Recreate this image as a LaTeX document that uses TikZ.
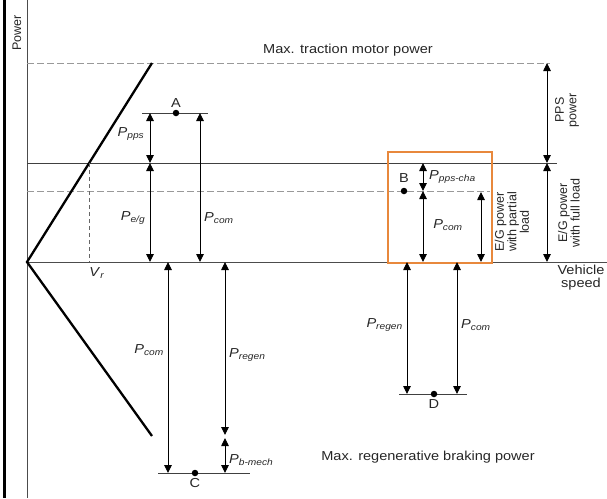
\documentclass[tikz,border=0pt]{standalone}
\usepackage{fontspec}
\setmainfont{Liberation Sans}
\newfontfamily\widesf[FakeStretch=1.12]{Liberation Sans}
\usetikzlibrary{arrows.meta,positioning,calc}
\definecolor{boxorange}{RGB}{232,136,60}
\newcommand{\Plab}[1]{\textit{P}\textsubscript{\textit{#1}}}
\tikzset{
  axisline/.style={draw=black!70, line width=0.9pt},
  level/.style={draw=black!75, line width=0.9pt},
  maxline/.style={draw=black!40, line width=0.9pt, dash pattern=on 7pt off 3pt},
  vline/.style={draw=black!60, line width=0.9pt, dash pattern=on 4pt off 3pt},
  limit/.style={draw=black, line width=2.3pt},
  dim/.style={{Triangle[width=7.5pt,length=8pt]}-{Triangle[width=7.5pt,length=8pt]}, draw=black, line width=0.9pt},
  opdot/.style={circle, fill=black, inner sep=0pt, minimum size=6.5pt},
  oplabel/.style={font=\widesf\fontsize{13}{13}\selectfont, text=black!85, inner sep=1pt},
  side/.style={font=\fontsize{12.5}{12.5}\selectfont, text=black!85, align=center, rotate=90, inner sep=0pt},
  zone/.style={draw=boxorange, line width=2.5pt}
}

\begin{document}
\begin{tikzpicture}[x=1pt,y=-1pt]
  \useasboundingbox (0,0) rectangle (607,498);
  \draw[line width=3pt] (4.5,0) -- (4.5,498);

  % axes
  \coordinate (O) at (27,262);
  \coordinate (ytop) at (27,0);
  \coordinate (ybot) at (27,498);
  \coordinate (xend) at (607,262);
  \draw[axisline] (ytop) -- (ybot);
  \draw[axisline] (O) -- (xend);
  \node[side] (power) at (17,33) {Power};
  \node[oplabel, align=center] (speed) at (581,278) {Vehicle\\speed};

  % power levels
  \coordinate (maxL) at (27,63);  \coordinate (maxR) at (550,63);
  \coordinate (fullL) at (27,163); \coordinate (fullR) at (557,163);
  \coordinate (partL) at (27,191); \coordinate (partR) at (490,191);
  \draw[maxline] (maxL) -- (maxR);
  \draw[level] (fullL) -- (fullR);
  \draw[maxline] (partL) -- (partR);
  \node[oplabel] (maxtm) at (348,50) {Max. traction motor power};
  \node[oplabel] (maxrb) at (428,457) {Max. regenerative braking power};

  % motor limit
  \coordinate (kneeT) at (152,63);
  \coordinate (kneeB) at (152,436);
  \draw[limit] (kneeT) -- (O) -- (kneeB);
  \coordinate (vrT) at (89,163);
  \coordinate (vrB) at (89,262);
  \draw[vline] (vrT) -- (vrB);
  \node[oplabel] (vr) at (97,273) {\textit{V}\textsubscript{\textit{r}}};

  % point A
  \coordinate (aL) at (142,113); \coordinate (aR) at (208,113);
  \draw[level] (aL) -- (aR);
  \node[opdot] (A) at (176,113) {};
  \node[oplabel, above=1pt of A] (lA) {A};
  \coordinate (a1) at (150,113); \coordinate (a2) at (150,163); \coordinate (a3) at (150,262);
  \coordinate (a4) at (200,113); \coordinate (a5) at (200,262);
  \draw[dim] (a1) -- (a2);
  \draw[dim] (a2) -- (a3);
  \draw[dim] (a4) -- (a5);
  \node[oplabel] (lpps) at (131,134) {\Plab{pps}};
  \node[oplabel] (leg) at (133,218) {\Plab{e/g}};
  \node[oplabel, anchor=west] (lcomA) at (203,218) {\Plab{com}};

  % point C
  \coordinate (cL) at (158,473); \coordinate (cR) at (250,473);
  \draw[level] (cL) -- (cR);
  \node[opdot] (C) at (195,473) {};
  \node[oplabel, below=1pt of C] (lC) {C};
  \coordinate (c1) at (168,262); \coordinate (c2) at (168,473);
  \coordinate (c3) at (225,262); \coordinate (c4) at (225,435);
  \coordinate (c5) at (225,438); \coordinate (c6) at (225,473);
  \draw[dim] (c1) -- (c2);
  \draw[dim] (c3) -- (c4);
  \draw[dim] (c5) -- (c6);
  \node[oplabel, anchor=east] (lcomC) at (165,350) {\Plab{com}};
  \node[oplabel, anchor=west] (lregC) at (228,355) {\Plab{regen}};
  \node[oplabel, anchor=west] (lbm) at (228,460) {\Plab{b-mech}};

  % point B
  \draw[zone] (388,152) rectangle (492,263);
  \node[opdot] (B) at (404,191) {};
  \node[oplabel] (lB) at (404,178) {B};
  \coordinate (b1) at (423,163); \coordinate (b2) at (423,191); \coordinate (b3) at (423,262);
  \coordinate (b4) at (481,192); \coordinate (b5) at (481,262);
  \draw[dim] (b1) -- (b2);
  \draw[dim] (b2) -- (b3);
  \draw[dim] (b4) -- (b5);
  \node[oplabel, anchor=west] (lcha) at (428,177) {\Plab{pps-cha}};
  \node[oplabel] (lcomB) at (448,225) {\Plab{com}};
  \node[side] (egpart) at (512,222) {E/G power\\with partial\\load};

  % point D
  \coordinate (dL) at (399,394); \coordinate (dR) at (467,394);
  \draw[level] (dL) -- (dR);
  \node[opdot] (D) at (434,394) {};
  \node[oplabel, below=1pt of D] (lD) {D};
  \coordinate (d1) at (407,262); \coordinate (d2) at (407,394);
  \coordinate (d3) at (457,262); \coordinate (d4) at (457,394);
  \draw[dim] (d1) -- (d2);
  \draw[dim] (d3) -- (d4);
  \node[oplabel, anchor=east] (lregD) at (404,325) {\Plab{regen}};
  \node[oplabel, anchor=west] (lcomD) at (460,325) {\Plab{com}};

  % right-hand scale
  \coordinate (r1) at (547,63); \coordinate (r2) at (547,163); \coordinate (r3) at (547,262);
  \draw[dim] (r1) -- (r2);
  \draw[dim] (r2) -- (r3);
  \node[side] (pps) at (567,110) {PPS\\power};
  \node[side] (egfull) at (569,213) {E/G power\\with full load};
\end{tikzpicture}
\end{document}
